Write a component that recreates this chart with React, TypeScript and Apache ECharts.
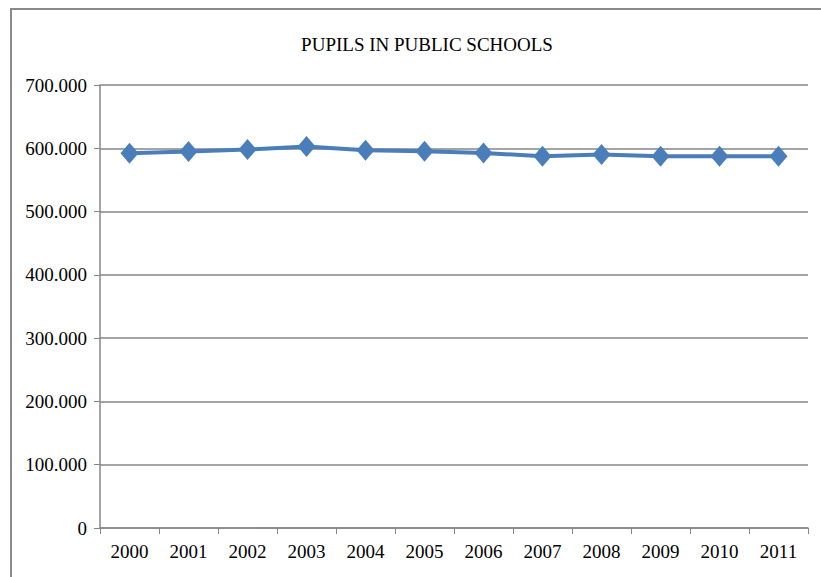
import React, { useEffect, useRef } from "react";
import * as echarts from "echarts";

const years = ["2000", "2001", "2002", "2003", "2004", "2005", "2006", "2007", "2008", "2009", "2010", "2011"];
const pupils = [592000, 595000, 598000, 603000, 597000, 595500, 592500, 587500, 590000, 587500, 587500, 587500];
const titleText = "PUPILS IN PUBLIC SCHOOLS";

const fmt = (v: number) => String(Math.round(v)).replace(/\B(?=(\d{3})+(?!\d))/g, ".");

export default function App() {
  const ref = useRef<HTMLDivElement>(null);
  useEffect(() => {
    if (!ref.current) return;
    const chart = echarts.init(ref.current, null, { renderer: "svg" });
    const font = "'Liberation Serif', 'Times New Roman', serif";
    chart.setOption({
      animation: false,
      backgroundColor: "#ffffff",
      title: {
        text: titleText,
        left: 422,
        top: 30,
        textAlign: "center",
        textStyle: { fontFamily: font, fontSize: 19, fontWeight: "normal", color: "#000" },
      },
      graphic: [
        {
          type: "rect",
          shape: { x: 11, y: 9, width: 900, height: 700 },
          style: { fill: "none", stroke: "#8a8a8a", lineWidth: 2 },
          silent: true,
        },
      ],
      grid: { left: 100, right: 13, top: 85, bottom: 49 },
      xAxis: {
        type: "category",
        data: years,
        boundaryGap: true,
        axisLine: { lineStyle: { color: "#868686", width: 1.5 } },
        axisTick: { show: true, length: 6, lineStyle: { color: "#868686" } },
        axisLabel: { fontFamily: font, fontSize: 19, color: "#000", margin: 14 },
      },
      yAxis: {
        type: "value",
        min: 0,
        max: 700000,
        interval: 100000,
        axisLine: { show: true, lineStyle: { color: "#868686", width: 1.5 } },
        axisTick: { show: true, length: 6, lineStyle: { color: "#868686" } },
        splitLine: { lineStyle: { color: "#868686", width: 1.5 } },
        axisLabel: { fontFamily: font, fontSize: 19, color: "#000", margin: 13, formatter: (v: number) => fmt(v) },
      },
      series: [
        {
          type: "line",
          data: pupils,
          symbol: "diamond",
          symbolSize: [18, 21],
          lineStyle: { color: "#4a7ebb", width: 4 },
          itemStyle: { color: "#4a7ebb" },
        },
      ],
    });
    return () => chart.dispose();
  }, []);
  return <div ref={ref} style={{ position: "fixed", left: 0, top: 0, width: 821, height: 577 }} />;
}
